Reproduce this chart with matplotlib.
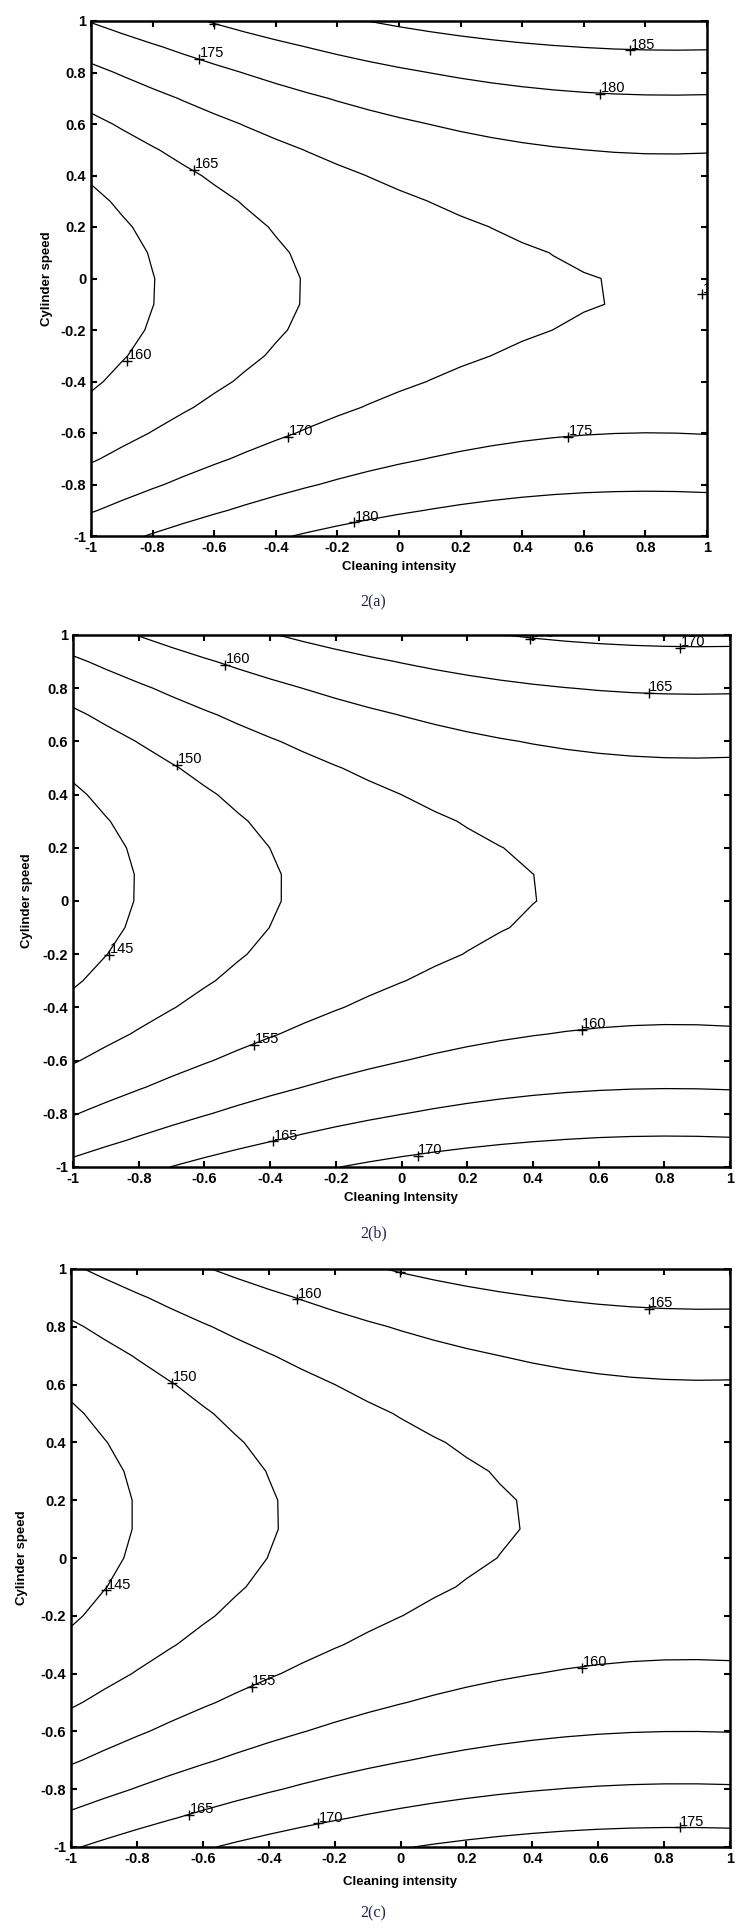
import numpy as np
import matplotlib.pyplot as plt

# ────────────────────────────────
# Данные: коэффициенты квадратичных моделей (по контурам рисунка)
# порядок: b0, b_intensity, b_speed, b_intensity^2, b_speed^2, b_intensity*speed

coef_a = [167.44, 6.39, 1.60, -3.77, 16.7, 0.37]
coef_b = [152.94, 6.60, -1.56, -3.85, 16.8, 0.39]
coef_c = [153.35, 6.75, -4.71, -3.79, 16.7, 0.37]

levels_a = [160, 165, 170, 175, 180, 185]
levels_b = [145, 150, 155, 160, 165, 170]
levels_c = [145, 150, 155, 160, 165, 170, 175]

# подписи контуров ("+" и число), как их поставил clabel
lab_a_x = [-0.649, -0.666, 0.751, 0.652, -0.884, -0.361, 0.550, -0.147, -0.602, 0.984]
lab_a_y = [0.853, 0.422, 0.886, 0.718, -0.320, -0.615, -0.615, -0.947, 0.990, -0.061]
lab_a_t = ['175', '165', '185', '180', '160', '170', '175', '180', '180', '170']

lab_b_x = [-0.537, -0.682, 0.752, 0.847, 0.392, -0.889, -0.449, 0.548, -0.390, 0.049]
lab_b_y = [0.889, 0.511, 0.782, 0.952, 0.986, -0.203, -0.541, -0.484, -0.904, -0.957]
lab_b_t = ['160', '150', '165', '170', '170', '145', '155', '160', '165', '170']

lab_c_x = [-0.314, -0.692, 0.753, -0.002, -0.893, -0.452, 0.550, -0.641, -0.249, 0.847]
lab_c_y = [0.895, 0.606, 0.862, 0.990, -0.112, -0.445, -0.380, -0.888, -0.918, -0.932]
lab_c_t = ['160', '150', '165', '165', '145', '155', '160', '165', '170', '175']

tick_vals = [-1, -0.8, -0.6, -0.4, -0.2, 0, 0.2, 0.4, 0.6, 0.8, 1]
tick_text = ['-1', '-0.8', '-0.6', '-0.4', '-0.2', '0', '0.2', '0.4', '0.6', '0.8', '1']

xlabels = ['Cleaning intensity', 'Cleaning Intensity', 'Cleaning intensity']
ylabel = 'Cylinder speed'
captions = ['2(a)', '2(b)', '2(c)']

coded = np.linspace(-1, 1, 21)  # сетка плана, шаг 0.1

# ────────────────────────────────
# Параметры графики

fig_w, fig_h = 747, 1930
# [left, bottom, width, height] в долях фигуры
boxes = [[91 / fig_w, 1 - 536 / fig_h, 616 / fig_w, 515 / fig_h],
         [73 / fig_w, 1 - 1167 / fig_h, 657 / fig_w, 532 / fig_h],
         [71 / fig_w, 1 - 1847 / fig_h, 659 / fig_w, 578 / fig_h]]
xlab_y = [-0.048, -0.047, -0.050]
ylab_x = [-0.062, -0.061, -0.065]
cap_y = [1 - 602 / fig_h, 1 - 1233 / fig_h, 1 - 1913 / fig_h]

sans = ['Liberation Sans', 'DejaVu Sans']
serif = ['Liberation Serif', 'DejaVu Serif']


def surface(c, x, y):
    return c[0] + c[1] * x + c[2] * y + c[3] * x ** 2 + c[4] * y ** 2 + c[5] * x * y


def setaxes(a, xl, xly, ylx):
    a.set_xlim(-1, 1)
    a.set_ylim(-1, 1)
    a.set_xticks(tick_vals)
    a.set_yticks(tick_vals)
    a.set_xticklabels(tick_text, family=sans, fontweight='bold', fontsize=10.5)
    a.set_yticklabels(tick_text, family=sans, fontweight='bold', fontsize=10.5)
    a.tick_params(direction='in', length=4, width=1.5, top=True, right=True, pad=3.5)
    for s in a.spines.values():
        s.set_linewidth(1.8)
    a.set_xlabel(xl, family=sans, fontweight='bold', fontsize=9.5)
    a.set_ylabel(ylabel, family=sans, fontweight='bold', fontsize=9.5)
    a.xaxis.set_label_coords(0.5, xly)
    a.yaxis.set_label_coords(ylx, 0.5)


fig = plt.figure(figsize=(fig_w / 100, fig_h / 100), dpi=100)

panels = [(coef_a, levels_a, lab_a_x, lab_a_y, lab_a_t),
          (coef_b, levels_b, lab_b_x, lab_b_y, lab_b_t),
          (coef_c, levels_c, lab_c_x, lab_c_y, lab_c_t)]

for k, (coef, lev, lx, ly, lt) in enumerate(panels):
    ax = fig.add_axes(boxes[k])
    X, Y = np.meshgrid(coded, coded)
    Z = surface(coef, X, Y)
    ax.contour(X, Y, Z, levels=lev, colors='k', linewidths=0.9)

    ax.plot(lx, ly, '+', color='k', markersize=6.5, markeredgewidth=1.0, clip_on=True)
    for x, y, t in zip(lx, ly, lt):
        ax.annotate(t, (x, y), xytext=(0.5, 1.2), textcoords='offset points',
                    ha='left', va='baseline', family=sans, fontsize=10.5,
                    clip_on=True)

    setaxes(ax, xlabels[k], xlab_y[k], ylab_x[k])
    fig.text(0.5, cap_y[k], captions[k], ha='center', va='center',
             family=serif, fontsize=11.5, color='#22224a')

fig.savefig('out.png', dpi=100)
